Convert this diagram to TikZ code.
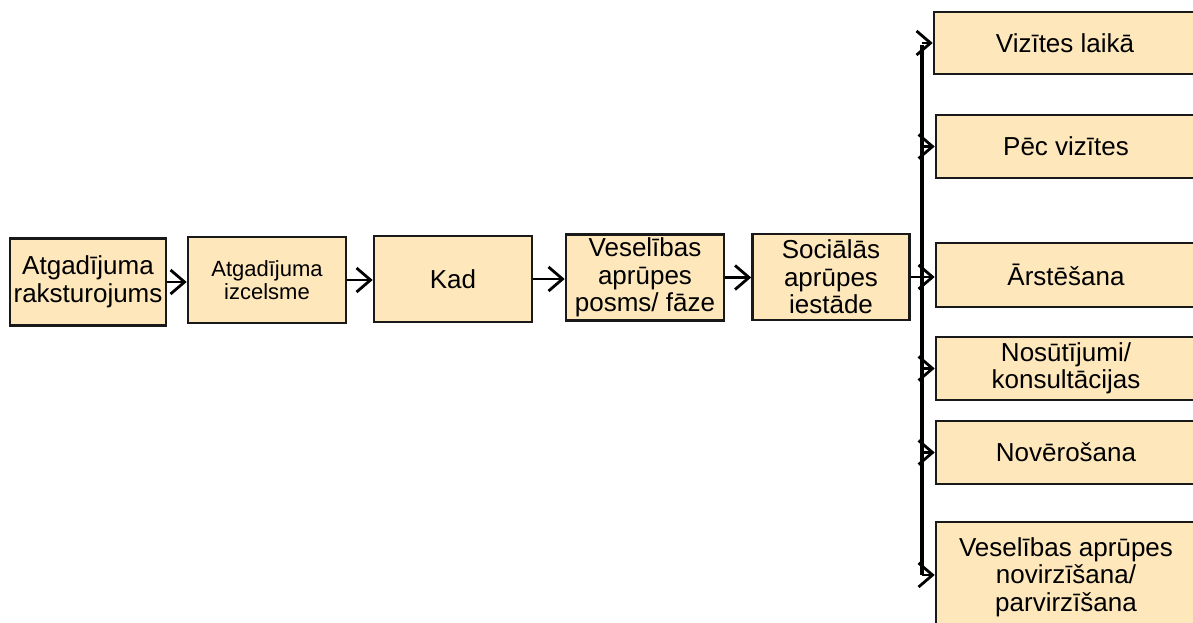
\documentclass[tikz,border=0pt]{standalone}
\usepackage{fontspec}
\setmainfont{Liberation Sans}
\usetikzlibrary{arrows.meta}
\definecolor{boxfill}{RGB}{253,231,187}
\tikzset{
  box/.style={draw=black!90, line width=2.6pt, fill=boxfill, inner sep=0pt, align=center,
    font=\fontsize{26}{27.5}\selectfont},
  smallbox/.style={box, font=\fontsize{22}{23}\selectfont},
  conn/.style={line width=2.8pt, -{Straight Barb[length=14pt,width=24pt]}},
  spine/.style={line width=3.2pt}
}
\begin{document}
\begin{tikzpicture}[x=1pt,y=-1pt]
\useasboundingbox (0,0) rectangle (1193,623);
\begin{scope}
\clip (0,0) rectangle (1193,623);
\node[box, minimum width=156pt, minimum height=87pt] (b1) at (88,282) {Atgadījuma\\raksturojums};
\node[smallbox, minimum width=158pt, minimum height=86pt] (b2) at (267,280) {Atgadījuma\\izcelsme};
\node[box, minimum width=158pt, minimum height=86pt] (b3) at (453,279) {Kad};
\node[box, minimum width=158pt, minimum height=86pt] (b4) at (645,277.5) {Veselības\\aprūpes\\posms/ fāze};
\node[box, minimum width=157pt, minimum height=86pt] (b5) at (831,277) {Sociālās\\aprūpes\\iestāde};

\node[box, minimum width=262pt, minimum height=62pt] (r1) at (1065,43) {Vizītes laikā};
\node[box, minimum width=260pt, minimum height=63pt] (r2) at (1066,146.5) {Pēc vizītes};
\node[box, minimum width=260pt, minimum height=64pt] (r3) at (1066,275) {Ārstēšana};
\node[box, minimum width=260pt, minimum height=63pt] (r4) at (1066,368.5) {Nosūtījumi/\\konsultācijas};
\node[box, minimum width=260pt, minimum height=63pt] (r5) at (1066,452.5) {Novērošana};
\node[box, minimum width=260pt, minimum height=110pt] (r6) at (1066,577) {Veselības aprūpes\\novirzīšana/\\parvirzīšana};
\end{scope}

\coordinate (stop) at (922,45);
\coordinate (sbot) at (922,575);
\draw[spine] (stop) -- (sbot);

\draw[conn] (b1.east) -- (b2.west |- b1.east);
\draw[conn] (b2.east) -- (b3.west |- b2.east);
\draw[conn] (b3.east) -- (b4.west |- b3.east);
\draw[conn] (b4.east) -- (b5.west |- b4.east);
\draw[conn] (b5.east) -- (r3.west |- b5.east);

\draw[conn] (stop |- r1.west) -- (r1.west);
\draw[conn] (stop |- r2.west) -- (r2.west);
\draw[conn] (stop |- r4.west) -- (r4.west);
\draw[conn] (stop |- r5.west) -- (r5.west);
\draw[conn] (sbot) -- (r6.west |- sbot);
\end{tikzpicture}
\end{document}
